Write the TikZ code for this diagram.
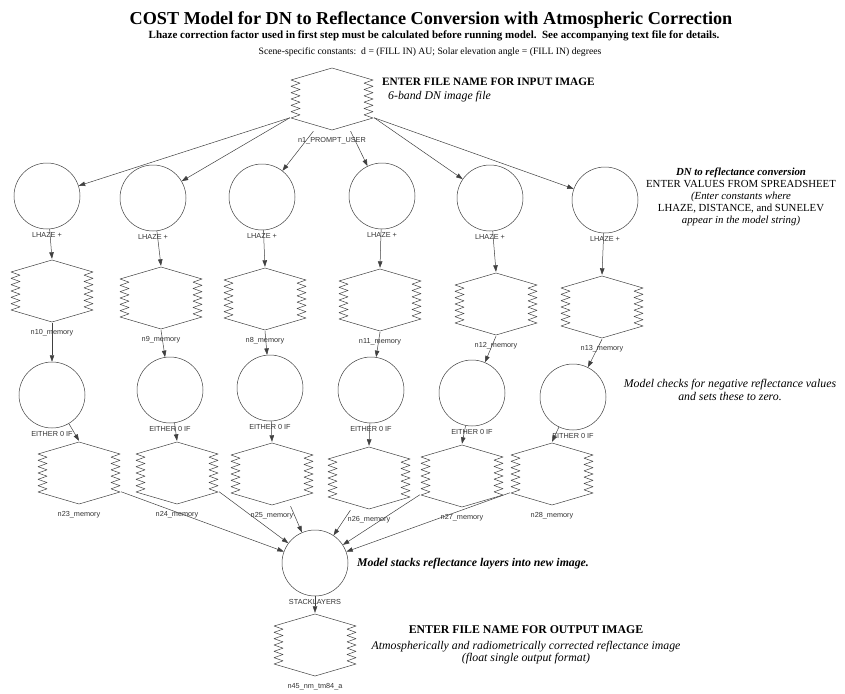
\documentclass[tikz,border=0pt]{standalone}
\usepackage{fontspec}
\setmainfont{Liberation Serif}
\newfontfamily\lsans{Liberation Sans}
\usetikzlibrary{arrows.meta}

\begin{document}
\begin{tikzpicture}[x=1pt,y=-1pt,
  fn/.style={circle,draw=black!75,line width=0.5pt,minimum size=66pt,inner sep=0pt},
  mem/.style={minimum width=84pt,minimum height=64pt,inner sep=0pt,
    path picture={\begin{scope}[shift={(path picture bounding box.center)}]
      \draw[black!75,line width=0.5pt,line join=round] (0,-31) -- (-41,-19)
        \foreach \i in {1,...,12}{ -- ({-41+9*mod(\i,2)},{-19+\i*38/12}) }
        -- (0,31) -- (41,19)
        \foreach \i in {1,...,12}{ -- ({41-9*mod(\i,2)},{19-\i*38/12}) } -- cycle;
    \end{scope}}},
  lab/.style={font=\lsans\fontsize{7.3}{8}\selectfont,text=black!80,inner sep=0.5pt},
  fl/.style={label={[lab,label distance=2.5pt]below:#1}},
  ml/.style={label={[lab,label distance=5.5pt]below:#1}},
  nt/.style={font=\fontsize{11.8}{12.5}\selectfont,align=center,inner sep=0pt},
  e/.style={-{Triangle[length=6.5pt,width=4.5pt]},draw=black!75,line width=0.5pt}]

\useasboundingbox (0,0) rectangle (845,693);

% ---- heading ----
\node[inner sep=0pt,font=\fontsize{18.2}{20}\selectfont\bfseries] (title) at (431,20)
  {COST Model for DN to Reflectance Conversion with Atmospheric Correction};
\node[inner sep=0pt,font=\fontsize{11}{12}\selectfont\bfseries] (note) at (434,36)
  {Lhaze correction factor used in first step must be calculated before running model.\ \ See accompanying text file for details.};
\node[inner sep=0pt,font=\fontsize{9.7}{11}\selectfont] (consts) at (430,52)
  {Scene-specific constants:\ \ d = (FILL IN) AU; Solar elevation angle = (FILL IN) degrees};

% ---- input ----
\node[mem,ml=n1\_PROMPT\_USER] (n1) at (332,99) {};
\node[nt,anchor=west,font=\fontsize{11.3}{12}\selectfont] (intxt) at (382,82) {\bfseries ENTER FILE NAME FOR INPUT IMAGE};
\node[nt,anchor=west] (insub) at (388,97) {\itshape 6-band DN image file};

% ---- DN to reflectance ----
\node[fn,fl=LHAZE +] (c1) at (47,196) {};
\node[fn,fl=LHAZE +] (c2) at (153,198) {};
\node[fn,fl=LHAZE +] (c3) at (262,197) {};
\node[fn,fl=LHAZE +] (c4) at (382,196) {};
\node[fn,fl=LHAZE +] (c5) at (490,198) {};
\node[fn,fl=LHAZE +] (c6) at (605,200) {};
\node[nt,font=\fontsize{10.8}{12}\selectfont] (dntxt) at (741,197) {\bfseries\itshape DN to reflectance conversion\\
  ENTER VALUES FROM SPREADSHEET\\ \itshape (Enter constants where\\
  LHAZE, DISTANCE, and SUNELEV\\ \itshape appear in the model string)};

\node[mem,ml=n10\_memory] (m10) at (52,291) {};
\node[mem,ml=n9\_memory] (m9) at (161,298) {};
\node[mem,ml=n8\_memory] (m8) at (265,299) {};
\node[mem,ml=n11\_memory] (m11) at (380,300) {};
\node[mem,ml=n12\_memory] (m12) at (496,304) {};
\node[mem,ml=n13\_memory] (m13) at (602,307) {};

% ---- negative values to zero ----
\node[fn,fl=EITHER 0 IF] (z1) at (52,395) {};
\node[fn,fl=EITHER 0 IF] (z2) at (170,390) {};
\node[fn,fl=EITHER 0 IF] (z3) at (270,388) {};
\node[fn,fl=EITHER 0 IF] (z4) at (371,390) {};
\node[fn,fl=EITHER 0 IF] (z5) at (472,393) {};
\node[fn,fl=EITHER 0 IF] (z6) at (573,397) {};
\node[nt] (chktxt) at (730,390) {\itshape Model checks for negative reflectance values\\
  \itshape and sets these to zero.};

\node[mem,ml=n23\_memory] (m23) at (79,473) {};
\node[mem,ml=n24\_memory] (m24) at (177,473) {};
\node[mem,ml=n25\_memory] (m25) at (272,474) {};
\node[mem,ml=n26\_memory] (m26) at (369,478) {};
\node[mem,ml=n27\_memory] (m27) at (462,476) {};
\node[mem,ml=n28\_memory] (m28) at (552,474) {};

% ---- stack + output ----
\node[fn,fl=STACKLAYERS] (stack) at (315,563) {};
\node[nt,anchor=west] (stktxt) at (357,564) {\bfseries\itshape Model stacks reflectance layers into new image.};
\node[mem,ml=n45\_nm\_tm84\_a] (out) at (315,645) {};
\node[nt] (outtxt) at (526,645) {\bfseries ENTER FILE NAME FOR OUTPUT IMAGE\\[3pt]
  \itshape Atmospherically and radiometrically corrected reflectance image\\
  \itshape (float single output format)};

\draw[e] (n1.204) -- (c1);
\draw[e] (n1.204) -- (c2);
\draw[e] (n1.240) -- (c3);
\draw[e] (n1.300) -- (c4);
\draw[e] (n1.336) -- (c5);
\draw[e] (n1.336) -- (c6);

\draw[e] (c1) -- (m10.north);
\draw[e] (c2) -- (m9.north);
\draw[e] (c3) -- (m8.north);
\draw[e] (c4) -- (m11.north);
\draw[e] (c5) -- (m12.north);
\draw[e] (c6) -- (m13.north);

\draw[e] (m10.south) -- (z1);
\draw[e] (m9.south) -- (z2);
\draw[e] (m8.south) -- (z3);
\draw[e] (m11.south) -- (z4);
\draw[e] (m12.south) -- (z5);
\draw[e] (m13.south) -- (z6);

\draw[e] (z1) -- (m23.north);
\draw[e] (z2) -- (m24.north);
\draw[e] (z3) -- (m25.north);
\draw[e] (z4) -- (m26.north);
\draw[e] (z5) -- (m27.north);
\draw[e] (z6) -- (m28.north);

\draw[e] (m23.336) -- (stack);
\draw[e] (m24.336) -- (stack);
\draw[e] (m25.300) -- (stack);
\draw[e] (m26.240) -- (stack);
\draw[e] (m27.204) -- (stack);
\draw[e] (m28.204) -- (stack);
\draw[e] (stack) -- (out.north);
\end{tikzpicture}
\end{document}
